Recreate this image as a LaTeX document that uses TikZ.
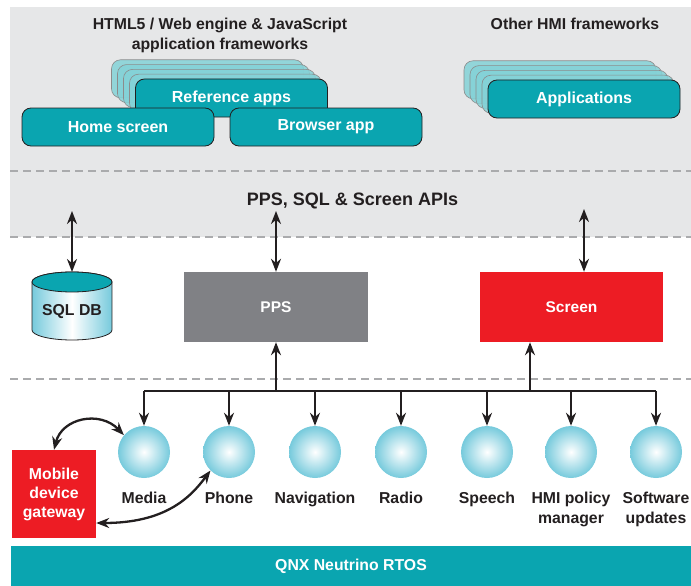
\documentclass[tikz,border=0pt]{standalone}
\usepackage{fontspec}
\setmainfont{Liberation Sans}
\usetikzlibrary{arrows.meta,positioning}

\definecolor{qteal}{RGB}{10,165,176}
\definecolor{qred}{RGB}{237,28,36}
\definecolor{qgrey}{RGB}{128,129,133}
\definecolor{qband}{RGB}{230,231,232}
\definecolor{qdash}{RGB}{170,171,173}
\definecolor{qball}{RGB}{118,202,220}
\definecolor{qink}{RGB}{35,31,32}

\tikzset{
  txt/.style={font=\bfseries\fontsize{15.8}{19.5}\selectfont, text=qink, align=center, inner sep=0pt},
  app/.style={draw=qink, line width=0.8pt, fill=qteal, rounded corners=9pt,
    minimum width=192pt, minimum height=38pt, text=white,
    font=\bfseries\fontsize{16}{18}\selectfont},
  ghost/.style={draw=black!45, line width=0.6pt, fill=qteal!50, fill opacity=0.85,
    rounded corners=9pt, minimum width=192pt, minimum height=38pt},
  block/.style={minimum width=#1, minimum height=70pt, text=white,
    font=\bfseries\fontsize{15.5}{18}\selectfont, inner sep=0pt},
  ball/.style={circle, minimum size=52pt, inner sep=0pt, inner color=white, outer color=qball},
  sep/.style={qdash, line width=2.5pt, dash pattern=on 8pt off 5pt},
  link/.style={qink, line width=2.3pt, -{Stealth[length=13pt,width=10pt]}},
  dlink/.style={link, {Stealth[length=13pt,width=10pt]}-{Stealth[length=13pt,width=10pt]}}
}

\begin{document}
\begin{tikzpicture}[x=1pt,y=-1pt]
\useasboundingbox (0,0) rectangle (691,586);

% grey band for the frameworks and the API layer
\fill[qband] (10,7) rectangle (691,237);
\draw[sep] (10,171) -- (691,171);
\draw[sep] (10,237) -- (691,237);
\draw[sep] (10,379) -- (691,379);

\node[txt, font=\bfseries\fontsize{15.8}{20}\selectfont] (webfw) at (220,35) {HTML5 / Web engine \& JavaScript\\application frameworks};
\node[txt] (otherfw) at (575,24) {Other HMI frameworks};

% stacked app cards
\foreach \d in {24,18,12,6} {
  \node[ghost] at (231.5-\d,98-\d*0.8) {};
  \node[ghost] at (584-\d,99-\d*0.8) {};
}
\node[app] (refapps) at (231.5,98) {Reference apps};
\node[app] (home) at (118,127) {Home screen};
\node[app] (browser) at (326,127) {Browser app};
\node[app] (apps) at (584,99) {Applications};

\node[txt, font=\bfseries\fontsize{18}{20}\selectfont] (api) at (352.5,201) {PPS, SQL \& Screen APIs};

% services under the APIs
\shade[left color=qball, right color=qball, middle color=white, draw=qink, line width=0.8pt]
  (32,282) -- (32,330) arc[start angle=180, end angle=0, x radius=40, y radius=10]
  -- (112,282) arc[start angle=0, end angle=-180, x radius=40, y radius=10];
\filldraw[fill=qteal, draw=qink, line width=0.8pt] (72,282) ellipse[x radius=40, y radius=10];
\node[txt] (sqldb) at (72,312) {SQL DB};
\coordinate (sqltop) at (72,272);

\node[block=184pt, fill=qgrey] (pps) at (276,307) {PPS};
\node[block=183pt, fill=qred] (screen) at (571.5,307) {Screen};

\coordinate (apiL) at (72,211);
\coordinate (apiM) at (276,211);
\coordinate (apiR) at (584,209);
\draw[dlink] (apiL) -- (sqltop);
\draw[dlink] (apiM) -- (pps.north);
\draw[dlink] (apiR) -- (screen.north -| apiR);

% bus to the platform services
\coordinate (busL) at (144,391);
\coordinate (busR) at (656,391);
\draw[qink, line width=2.3pt] (busL) -- (busR);
\draw[link] (pps.south |- busL) -- (pps.south);
\draw[link] (530,391) -- (screen.south -| 530,0);

\foreach \x/\name/\lbl in {144/media/Media, 229/phone/Phone, 315/nav/Navigation,
    401/radio/Radio, 487/speech/Speech, 571/hmi/{HMI policy\\manager}, 656/soft/{Software\\updates}} {
  \node[ball] (\name) at (\x,452) {};
  \node[txt, anchor=north] (\name-l) at (\x,492) {\lbl};
  \draw[link] (\name |- busL) -- (\name.north);
}

\node[fill=qred, minimum width=84pt, minimum height=88pt, text=white, align=center,
  font=\bfseries\fontsize{15.8}{19}\selectfont] (gw) at (54,494) {Mobile\\device\\gateway};

\draw[dlink] (gw.north) .. controls (62,418) and (100,410) .. (media.140);
\draw[dlink] ([yshift=-29pt]gw.east) .. controls (165,523) and (190,498) .. (phone.225);

% OS layer
\node[fill=qteal, minimum width=680pt, minimum height=40pt, text=white,
  font=\bfseries\fontsize{15.8}{18}\selectfont] (rtos) at (351,566) {QNX Neutrino RTOS};
\end{tikzpicture}
\end{document}
